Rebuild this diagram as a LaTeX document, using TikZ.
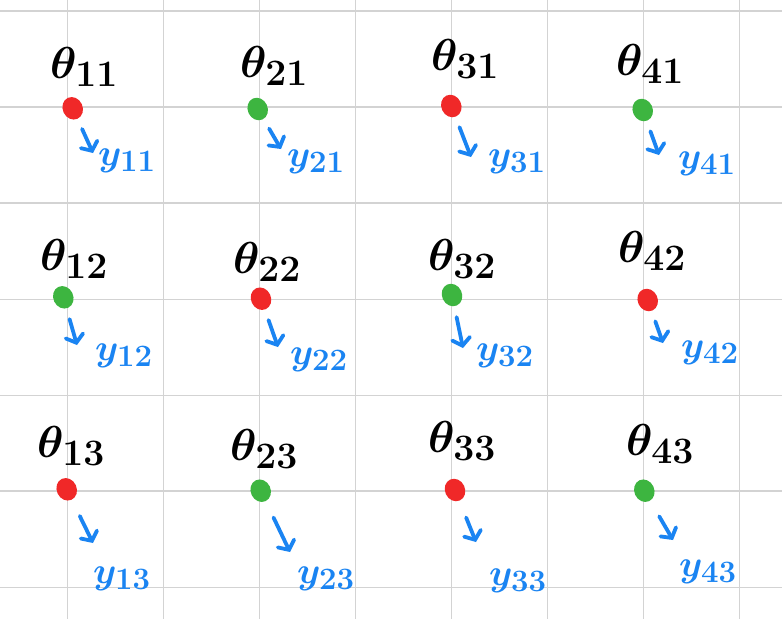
\documentclass[tikz,border=0pt]{standalone}
\usetikzlibrary{arrows.meta,shapes.geometric}
\definecolor{gridc}{HTML}{D3D3D3}
\definecolor{dotred}{HTML}{F02828}
\definecolor{dotgreen}{HTML}{3DB540}
\definecolor{penblue}{HTML}{1A84F2}
\newcommand\mythlab[1]{\scalebox{1.8}{\Huge\boldmath$\theta_{#1}$}}
\newcommand\myylab[1]{\scalebox{1.5}{\Huge\boldmath$y_{#1}$}}
\begin{document}
\begin{tikzpicture}[x=1pt,y=-1pt,
  gridline/.style={draw=gridc,line width=1.3pt},
  dotbase/.style={ellipse,minimum width=20pt,minimum height=23pt,inner sep=0pt,rotate=25},
  reddot/.style={dotbase,fill=dotred},
  greendot/.style={dotbase,fill=dotgreen},
  theta/.style={anchor=base west,inner sep=0pt},
  ylab/.style={anchor=base west,inner sep=0pt,text=penblue},
  arr/.style={draw=penblue,line width=3.8pt,line cap=round,line join=round,shorten <=11pt,
    -{Straight Barb[length=7pt,width=18pt,line cap=round]}}]
\fill[white] (0,0) rectangle (782,619);
\useasboundingbox (0,0) rectangle (782,619);
% grid
\foreach \gx in {67.6,163.6,259.6,355.7,451.7,547.7,643.7,739.8}
  \draw[gridline] (\gx,0) -- (\gx,619);
\foreach \gy in {11,107,203,299.2,395.2,491,587.3}
  \draw[gridline] (0,\gy) -- (782,\gy);
% dots
\node[reddot]   (d11) at (72.7,108.3) {};
\node[greendot] (d21) at (257.7,109) {};
\node[reddot]   (d31) at (451.3,106) {};
\node[greendot] (d41) at (642.7,110) {};
\node[greendot] (d12) at (63.3,297.3) {};
\node[reddot]   (d22) at (261,298.7) {};
\node[greendot] (d32) at (452,295) {};
\node[reddot]   (d42) at (647.7,300) {};
\node[reddot]   (d13) at (66.7,489.3) {};
\node[greendot] (d23) at (260.7,490.7) {};
\node[reddot]   (d33) at (455,490) {};
\node[greendot] (d43) at (644.3,490.7) {};
% theta labels
\node[theta] (t11) at (50,78)  {\mythlab{11}};
\node[theta] (t21) at (240,77) {\mythlab{21}};
\node[theta] (t31) at (431,70) {\mythlab{31}};
\node[theta] (t41) at (616,75) {\mythlab{41}};
\node[theta] (t12) at (40,270)  {\mythlab{12}};
\node[theta] (t22) at (233,273) {\mythlab{22}};
\node[theta] (t32) at (428,270) {\mythlab{32}};
\node[theta] (t42) at (618,262) {\mythlab{42}};
\node[theta] (t13) at (37,457)  {\mythlab{13}};
\node[theta] (t23) at (230,460) {\mythlab{23}};
\node[theta] (t33) at (428,452) {\mythlab{33}};
\node[theta] (t43) at (626,455) {\mythlab{43}};
% y labels
\node[ylab] (y11) at (98,165)  {\myylab{11}};
\node[ylab] (y21) at (287,166) {\myylab{21}};
\node[ylab] (y31) at (488,166) {\myylab{31}};
\node[ylab] (y41) at (678,168) {\myylab{41}};
\node[ylab] (y12) at (95,360)  {\myylab{12}};
\node[ylab] (y22) at (290,364) {\myylab{22}};
\node[ylab] (y32) at (476,360) {\myylab{32}};
\node[ylab] (y42) at (681,357) {\myylab{42}};
\node[ylab] (y13) at (93,583)  {\myylab{13}};
\node[ylab] (y23) at (297,583) {\myylab{23}};
\node[ylab] (y33) at (489,585) {\myylab{33}};
\node[ylab] (y43) at (679,576) {\myylab{43}};
% arrow ends
\coordinate (e11) at (93,153);
\coordinate (e21) at (281,149);
\coordinate (e31) at (471,157);
\coordinate (e41) at (659,155);
\coordinate (e12) at (77,345);
\coordinate (e22) at (278,347);
\coordinate (e32) at (463,348);
\coordinate (e42) at (663,343);
\coordinate (e13) at (93,543);
\coordinate (e23) at (290,552);
\coordinate (e33) at (476,542);
\coordinate (e43) at (673,540);
% arrows
\foreach \k in {11,21,31,41,12,22,32,42}
  \draw[arr] (d\k) -- (e\k);
\foreach \k in {13,23,33,43}
  \draw[arr,shorten <=18pt] (d\k) -- (e\k);
\end{tikzpicture}
\end{document}
